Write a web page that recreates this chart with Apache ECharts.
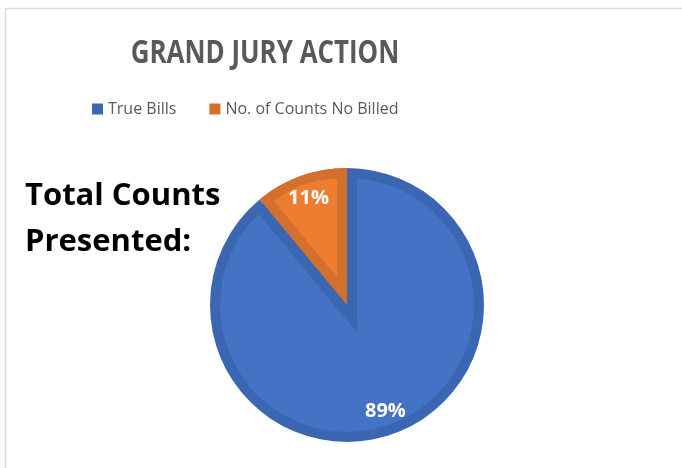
<!DOCTYPE html>
<html>
<head>
<meta charset="utf-8">
<script src="https://cdn.jsdelivr.net/npm/echarts@6/dist/echarts.min.js"></script>
<style>
  html, body { margin: 0; padding: 0; background: #fff; }
  #main { width: 682px; height: 468px; }
</style>
</head>
<body>
<div id="main"></div>
<script>
// data
const categories = ['True Bills', 'No. of Counts No Billed'];
const shares = [89, 11];
const fillColors = ['#4472C4', '#ED7D31'];
const edgeColors = ['#3B66B1', '#D4702D'];

// pie geometry (Excel style thick inner border)
const CX = 347;
const CY = 305;
const R = 137;
const BAND = 10;
const NONE = 'rgba(0,0,0,0)';

const total = shares.reduce((a, b) => a + b, 0);
// half angle of the small slice, used to inset its edges by BAND px
const half = (shares[1] / total) * Math.PI;
const shift = BAND / Math.sin(half);
const offY = BAND / Math.tan(half);

function pie(center, radius, colors, extra) {
  return Object.assign({
    type: 'pie',
    silent: true,
    center: center,
    radius: radius,
    startAngle: 90,
    clockwise: true,
    label: { show: false },
    labelLine: { show: false },
    emphasis: { disabled: true },
    data: shares.map((v, i) => ({
      name: categories[i],
      value: v,
      itemStyle: { color: colors[i], borderWidth: 0 }
    }))
  }, extra || {});
}

const chart = echarts.init(document.getElementById('main'));
chart.setOption({
  animation: false,
  backgroundColor: '#fff',
  legend: {
    left: 87,
    top: 96,
    icon: 'rect',
    itemWidth: 11,
    itemHeight: 11,
    itemGap: 33,
    selectedMode: false,
    textStyle: { fontFamily: 'Open Sans', fontSize: 16, color: '#595959' },
    data: categories.map((n, i) => ({ name: n, itemStyle: { color: edgeColors[i] } }))
  },
  graphic: [
    {
      type: 'rect',
      silent: true,
      shape: { x: 5.5, y: 8.5, width: 720, height: 520 },
      style: { fill: 'none', stroke: '#d9d9d9', lineWidth: 1.5 }
    },
    {
      // narrow bold title, squeezed like the original font
      type: 'text',
      silent: true,
      x: 265,
      y: 54,
      scaleX: 0.81,
      style: {
        text: 'GRAND JURY ACTION',
        x: 0, y: 0,
        align: 'center', verticalAlign: 'middle',
        font: 'bold 32px "Open Sans"',
        fill: '#595959'
      }
    },
    {
      type: 'text',
      silent: true,
      style: {
        text: 'Total Counts\nPresented:',
        x: 25, y: 173,
        align: 'left', verticalAlign: 'top',
        font: 'bold 31px "Open Sans"',
        lineHeight: 46,
        fill: '#000'
      }
    }
  ],
  series: [
    // dark base: both slices full size
    pie([CX, CY], R, edgeColors),
    // light blue body
    pie([CX, CY], R - BAND, [fillColors[0], fillColors[0]]),
    // blue edge band along the small slice
    pie([CX + BAND, CY + offY], R - BAND + shift + 3, [NONE, edgeColors[0]]),
    // small slice again on top
    pie([CX, CY], R, [NONE, edgeColors[1]]),
    // light orange body, inset
    pie([CX - BAND, CY - offY], R - BAND - shift + 1, [NONE, fillColors[1]]),
    // percentage labels
    pie([CX, CY], [84, R], [NONE, NONE], {
      label: {
        show: true,
        position: 'inside',
        formatter: p => p.value + '%',
        color: '#fff',
        fontFamily: 'Open Sans',
        fontWeight: 'bold',
        fontSize: 20
      }
    })
  ]
});
</script>
</body>
</html>
